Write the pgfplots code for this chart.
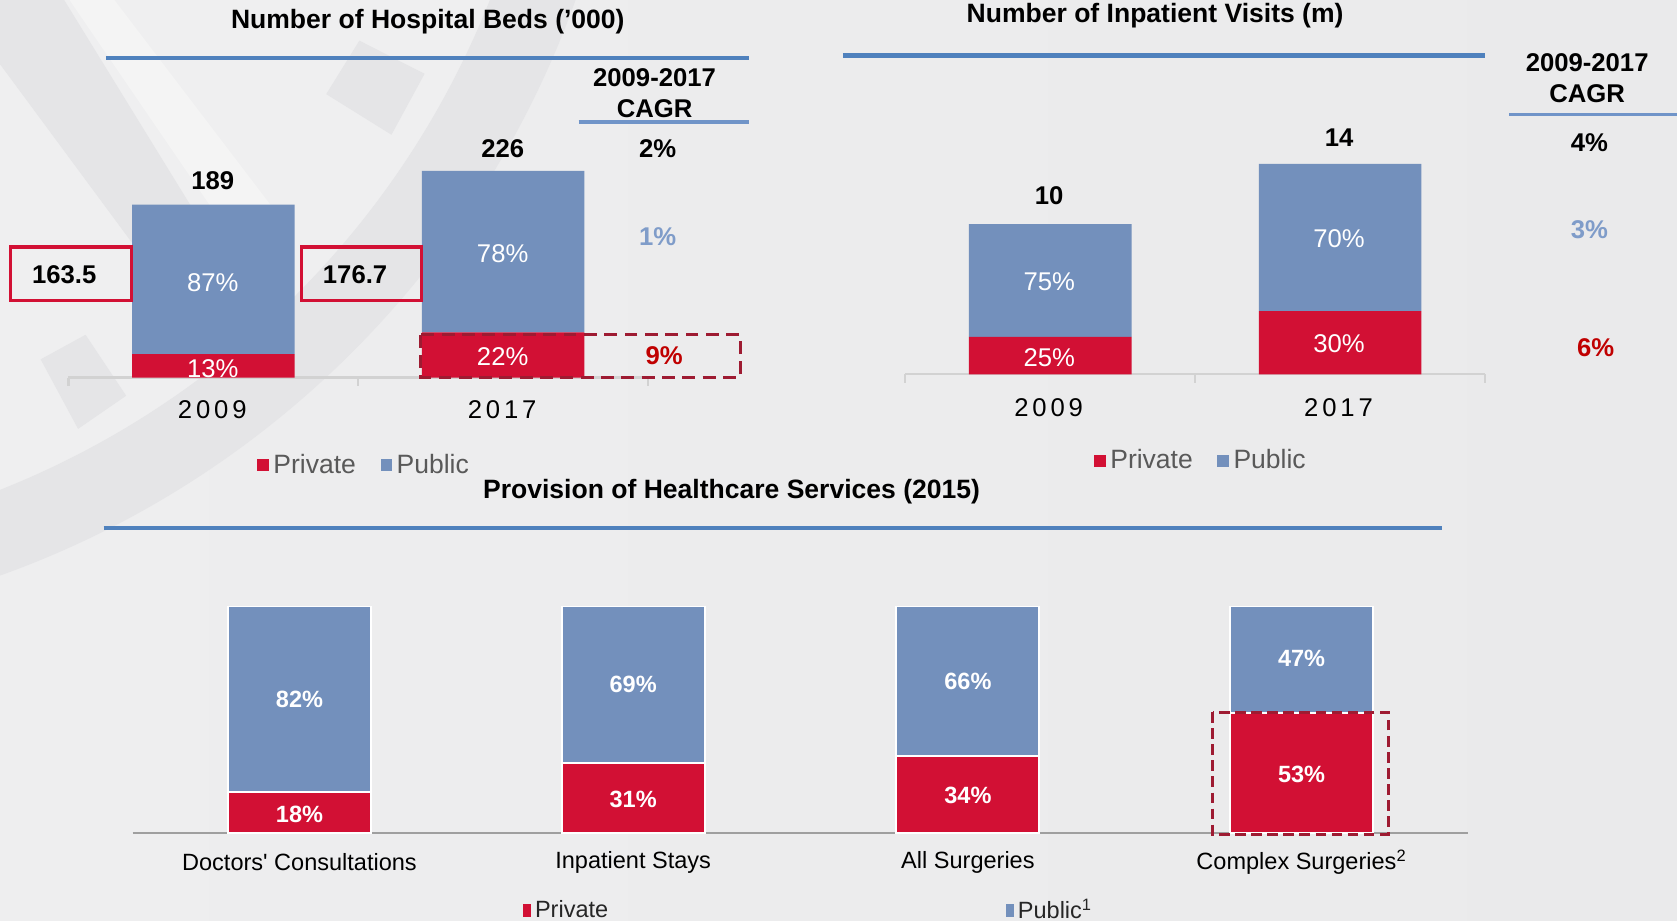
\documentclass[border=0pt]{standalone}
\usepackage{fontspec}
\setmainfont{Liberation Sans}
\usepackage{pgfplots}
\pgfplotsset{compat=1.18}
\definecolor{pubc}{RGB}{115,144,188}
\definecolor{pric}{RGB}{210,16,52}
\definecolor{titleblue}{RGB}{79,129,189}
\definecolor{cagrblue}{RGB}{112,148,200}
\definecolor{lblue}{RGB}{127,156,201}
\definecolor{dred}{RGB}{192,0,0}
\definecolor{boxred}{RGB}{210,16,52}
\definecolor{dashred}{RGB}{158,27,50}
\definecolor{leggray}{RGB}{89,89,89}
\definecolor{basegray}{RGB}{210,210,210}
\definecolor{bgband}{RGB}{229,229,231}
\definecolor{bglight}{RGB}{239,239,240}
\definecolor{bgL}{RGB}{238,238,239}
\definecolor{bgM}{RGB}{249,249,249}
\definecolor{bgR}{RGB}{234,234,235}
\newcommand\fT{\fontsize{12.4}{14}\selectfont\bfseries}
\newcommand\fB{\fontsize{12}{14}\selectfont\bfseries}
\newcommand\fR{\fontsize{12}{14}\selectfont}
\newcommand\fL{\fontsize{12.4}{14}\selectfont}
\newcommand\fS{\fontsize{11}{13}\selectfont}
\newcommand\fSB{\fontsize{11}{13}\selectfont\bfseries}
\newcommand\fY{\fontsize{12}{14}\selectfont\addfontfeature{LetterSpace=15}}
\begin{document}
\begin{tikzpicture}
\path[use as bounding box] (0,0) rectangle (784pt,-430.5pt);
\shade[left color=bgL, middle color=bgM, right color=bgR] (0,0) rectangle (784pt,-430.5pt);
\begin{scope}
\clip (0,0) rectangle (784pt,-430.5pt);
\begin{scope}[x=0.5pt,y=-0.5pt]
% faint logo
\fill[bglight] (-300,-300) circle (890);
\fill[bgband, even odd rule] (-300,-300) circle (890) (-300,-300) circle (815);
\fill[bgband] (305,88) -- (336,38) -- (397,69) -- (366,126) -- cycle;
\fill[bgband] (38,336) -- (80,313) -- (118,370) -- (73,401) -- cycle;
\fill[bgband] (0,0) -- (60,0) -- (220,260) -- (170,290) -- (0,60) -- cycle;
\fill[bgM!45!bglight] (65,0) -- (107,0) -- (267,210) -- (229,240) -- cycle;
\end{scope}
\end{scope}

% ---------- Chart 1: Hospital beds ----------
\begin{axis}[
  at={(32pt,-176.5pt)}, anchor=south west,
  scale only axis, width=271pt, height=102.6pt,
  xmin=-0.5, xmax=1.5, ymin=0, ymax=240,
  hide axis, clip=false,
  ybar stacked, bar width=76pt,
  legend style={at={(0.512,-0.4)}, anchor=center, draw=none, fill=none,
    font=\fL, text=leggray, legend columns=2,
    /tikz/every even column/.append style={column sep=9.5pt}},
  legend image code/.code={\path[#1,draw=none] (0pt,-2.75pt) rectangle (5.5pt,2.75pt);},
]
\addplot[fill=pric, draw=none] coordinates {(0,25.5) (1,49.3)};
\addplot[fill=pubc, draw=none] coordinates {(0,163.5) (1,176.7)};
\legend{Private, Public}
\draw[basegray, line width=1pt] (axis cs:-0.5,0) -- (axis cs:1.5,0);
\draw[basegray, line width=1pt] (axis cs:-0.5,0) -- ([yshift=-4pt]axis cs:-0.5,0);
\draw[basegray, line width=1pt] (axis cs:0.5,0) -- ([yshift=-4pt]axis cs:0.5,0);
\draw[basegray, line width=1pt] (axis cs:1.5,0) -- ([yshift=-4pt]axis cs:1.5,0);
\end{axis}

% ---------- Chart 2: Inpatient visits ----------
\begin{axis}[
  at={(423.25pt,-175pt)}, anchor=south west,
  scale only axis, width=271pt, height=112.4pt,
  xmin=-0.5, xmax=1.5, ymin=0, ymax=16,
  hide axis, clip=false,
  ybar stacked, bar width=76pt,
  legend style={at={(0.512,-0.36)}, anchor=center, draw=none, fill=none,
    font=\fL, text=leggray, legend columns=2,
    /tikz/every even column/.append style={column sep=9.5pt}},
  legend image code/.code={\path[#1,draw=none] (0pt,-2.75pt) rectangle (5.5pt,2.75pt);},
]
\addplot[fill=pric, draw=none] coordinates {(0,2.5) (1,4.2)};
\addplot[fill=pubc, draw=none] coordinates {(0,7.5) (1,9.8)};
\legend{Private, Public}
\draw[basegray, line width=1pt] (axis cs:-0.5,0) -- (axis cs:1.5,0);
\draw[basegray, line width=1pt] (axis cs:-0.5,0) -- ([yshift=-4pt]axis cs:-0.5,0);
\draw[basegray, line width=1pt] (axis cs:0.5,0) -- ([yshift=-4pt]axis cs:0.5,0);
\draw[basegray, line width=1pt] (axis cs:1.5,0) -- ([yshift=-4pt]axis cs:1.5,0);
\end{axis}

% ---------- Chart 3: Provision of services ----------
\begin{axis}[
  at={(62pt,-389.5pt)}, anchor=south west,
  scale only axis, width=624.5pt, height=106pt,
  xmin=-0.5, xmax=3.5, ymin=0, ymax=100,
  hide axis, clip=false,
  ybar stacked, bar width=67pt,
  legend style={at={(0.507,-0.34)}, anchor=center, draw=none, fill=none,
    font=\fS, text=black!85, legend columns=2,
    /tikz/every even column/.append style={column sep=184pt}},
  legend image code/.code={\path[#1,draw=none] (0pt,-3pt) rectangle (3.5pt,3pt);},
]
\addplot[fill=pric, draw=white, line width=0.8pt] coordinates {(0,18) (1,31) (2,34) (3,53)};
\addplot[fill=pubc, draw=white, line width=0.8pt] coordinates {(0,82) (1,69) (2,66) (3,47)};
\legend{Private, Public\textsuperscript{1}}
\draw[gray!75, line width=1.1pt] (axis cs:-0.5,0) -- (axis cs:3.5,0);
\end{axis}

\begin{scope}[x=0.5pt,y=-0.5pt, every node/.style={inner sep=0pt}]
% chart 1 annotations
\node[font=\fT] at (400,20) {Number of Hospital Beds (’000)};
\draw[titleblue, line width=2pt] (99,54) -- (700,54);
\node[font=\fB] at (612,73) {2009-2017};
\node[font=\fB] at (612,102) {CAGR};
\draw[cagrblue, line width=1.5pt] (541,114) -- (700,114);
\node[font=\fB] at (615,139) {2\%};
\node[font=\fB, text=lblue] at (615,221) {1\%};
\node[font=\fB, text=dred] at (621,333) {9\%};
\node[font=\fB] at (199,169) {189};
\node[font=\fB] at (470,139) {226};
\draw[boxred, line width=1.5pt] (10,231) rectangle (123,281);
\node[font=\fB] at (60,257) {163.5};
\draw[boxred, line width=1.5pt] (282,231) rectangle (394,281);
\node[font=\fB] at (332,257) {176.7};
\node[font=\fR, text=white] at (199,264) {87\%};
\node[font=\fR, text=white] at (199,345) {13\%};
\node[font=\fR, text=white] at (470,237) {78\%};
\node[font=\fR, text=white] at (470,333) {22\%};
\node[font=\fY] at (198.5,383) {2009};
\node[font=\fY] at (469.5,383) {2017};
\draw[dashred, line width=1.5pt, dash pattern=on 6pt off 3.5pt] (393,313) rectangle (692,353);
% chart 2 annotations
\node[font=\fT] at (1080,15) {Number of Inpatient Visits (m)};
\draw[titleblue, line width=2pt] (788,52) -- (1388,52);
\node[font=\fB] at (1484,59) {2009-2017};
\node[font=\fB] at (1484,88) {CAGR};
\draw[cagrblue, line width=1.5pt] (1411,107) -- (1568,107);
\node[font=\fB] at (1486,133) {4\%};
\node[font=\fB, text=lblue] at (1486,215) {3\%};
\node[font=\fB, text=dred] at (1492,325) {6\%};
\node[font=\fB] at (981,183) {10};
\node[font=\fB] at (1252,129) {14};
\node[font=\fR, text=white] at (981,263) {75\%};
\node[font=\fR, text=white] at (981,334) {25\%};
\node[font=\fR, text=white] at (1252,223) {70\%};
\node[font=\fR, text=white] at (1252,321) {30\%};
\node[font=\fY] at (980.5,381) {2009};
\node[font=\fY] at (1251.5,381) {2017};
% chart 3 annotations
\node[font=\fT] at (684,460) {Provision of Healthcare Services (2015)};
\draw[titleblue, line width=2pt] (97,494) -- (1348,494);
\node[font=\fSB, text=white] at (280,654) {82\%};
\node[font=\fSB, text=white] at (280,761) {18\%};
\node[font=\fSB, text=white] at (592,640) {69\%};
\node[font=\fSB, text=white] at (592,747) {31\%};
\node[font=\fSB, text=white] at (905,637) {66\%};
\node[font=\fSB, text=white] at (905,744) {34\%};
\node[font=\fSB, text=white] at (1217,616) {47\%};
\node[font=\fSB, text=white] at (1217,724) {53\%};
\node[font=\fS] at (280,806) {Doctors\textquotesingle{} Consultations};
\node[font=\fS] at (592,806) {Inpatient Stays};
\node[font=\fS] at (905,806) {All Surgeries};
\node[font=\fS] at (1217,806) {Complex Surgeries\textsuperscript{2}};
\draw[dashred, line width=1.5pt, dash pattern=on 5pt off 2.5pt] (1134,666) rectangle (1298,780);
\end{scope}
\end{tikzpicture}
\end{document}
